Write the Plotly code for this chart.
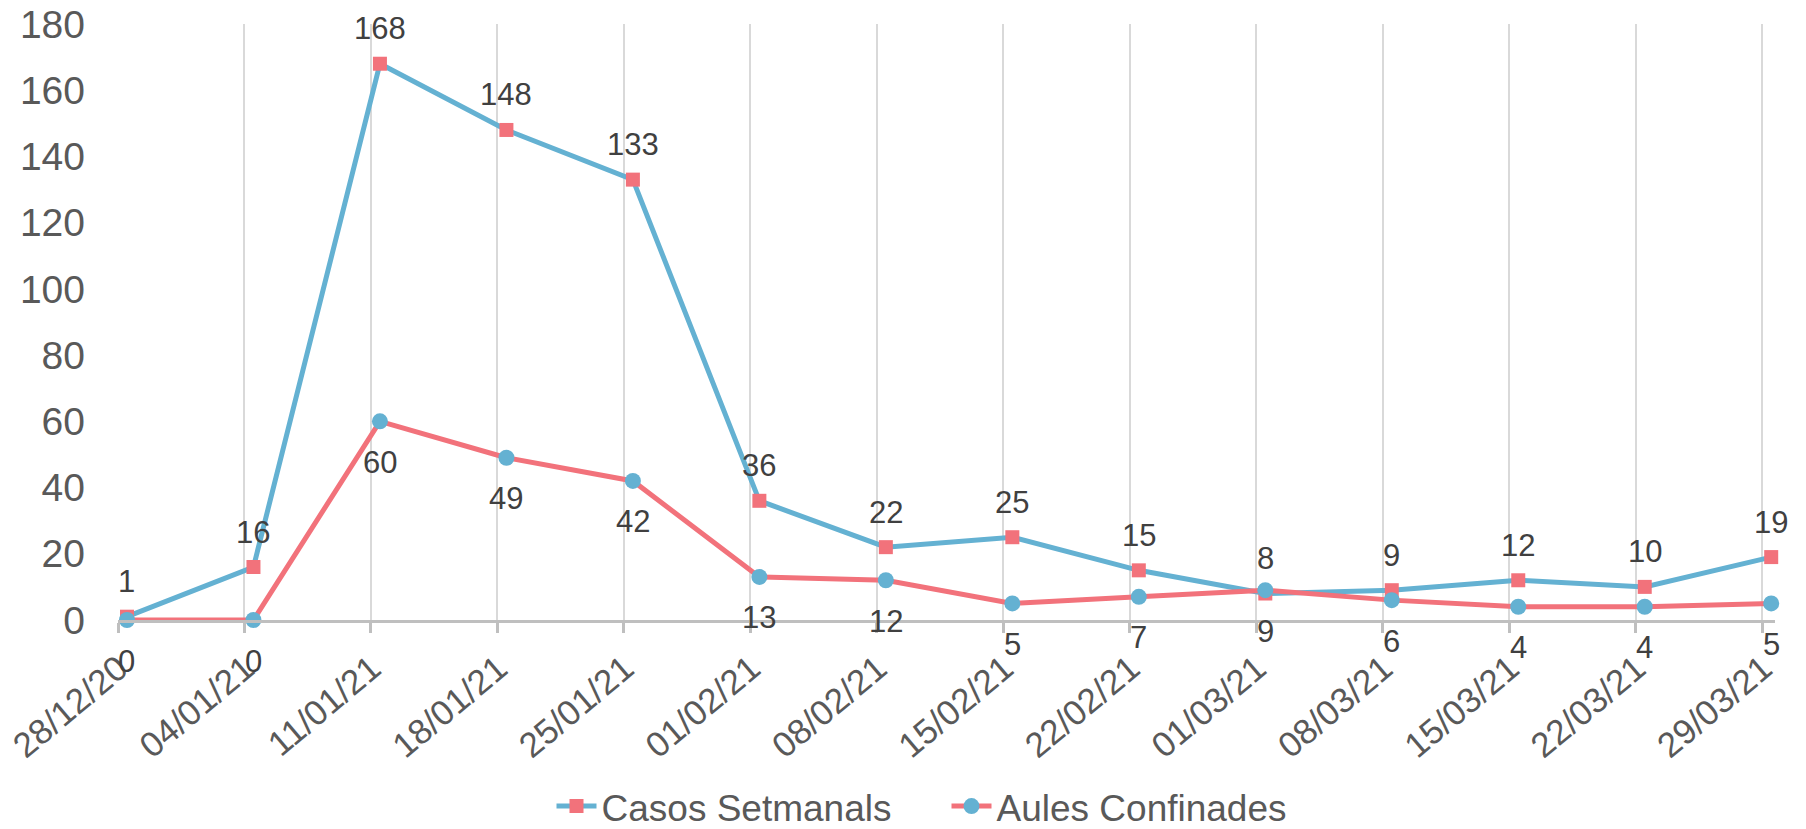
import numpy as np
import plotly.graph_objects as go

dates = ["28/12/20", "04/01/21", "11/01/21", "18/01/21", "25/01/21", "01/02/21", "08/02/21",
         "15/02/21", "22/02/21", "01/03/21", "08/03/21", "15/03/21", "22/03/21", "29/03/21"]
casos = [1, 16, 168, 148, 133, 36, 22, 25, 15, 8, 9, 12, 10, 19]
aules = [0, 0, 60, 49, 42, 13, 12, 5, 7, 9, 6, 4, 4, 5]

BLUE = "#64B1D2"
RED = "#F2727B"
FONT = "Liberation Sans, Arial, sans-serif"

x = np.arange(len(dates))
grid_shift = 0.071

fig = go.Figure()
fig.add_trace(go.Scatter(
    x=x, y=casos, name="Casos Setmanals", mode="lines+markers",
    line=dict(color=BLUE, width=5),
    marker=dict(symbol="square", size=14, color=RED),
    cliponaxis=False, hoverinfo="skip"))
fig.add_trace(go.Scatter(
    x=x, y=aules, name="Aules Confinades", mode="lines+markers",
    line=dict(color=RED, width=5),
    marker=dict(symbol="circle", size=16, color=BLUE),
    cliponaxis=False, hoverinfo="skip"))

for xi, v in zip(x, casos):
    fig.add_annotation(x=xi, y=v, text=str(v), showarrow=False, yshift=35,
                       font=dict(size=31, color="#404040", family=FONT))
for xi, v in zip(x, aules):
    fig.add_annotation(x=xi, y=v, text=str(v), showarrow=False, yshift=-41,
                       font=dict(size=31, color="#404040", family=FONT))

fig.update_layout(
    width=1806, height=829,
    margin=dict(l=118, r=31, t=24, b=209, autoexpand=False),
    paper_bgcolor="white", plot_bgcolor="white",
    font=dict(family=FONT, color="#595959", size=37),
    showlegend=True,
    legend=dict(orientation="h", x=0.5, xanchor="center", y=-0.313, yanchor="middle",
                font=dict(size=37, color="#595959"), itemwidth=40,
                entrywidth=340, bgcolor="rgba(0,0,0,0)"),
    xaxis=dict(
        range=[-grid_shift, 13.03], tickmode="array", tickvals=x, ticktext=dates,
        tickangle=-40, ticks="", showgrid=False, zeroline=False, automargin=False,
        showline=True, linecolor="#BFBFBF", linewidth=3,
        tickfont=dict(size=35, color="#595959"), ticklabelstandoff=11, ticklabelshift=-8,
        minor=dict(tickmode="array", tickvals=x - grid_shift, showgrid=True,
                   gridcolor="#D9D9D9", gridwidth=2, ticks="outside", ticklen=10,
                   tickcolor="#BFBFBF", tickwidth=3),
    ),
    yaxis=dict(
        range=[0, 180], tickmode="array", tickvals=list(range(0, 181, 20)),
        showgrid=False, zeroline=False, showline=False, ticks="", automargin=False,
        tickfont=dict(size=39, color="#595959"), ticklabelstandoff=32,
    ),
)

fig.write_html("out.html", config={"displayModeBar": False},
               post_script="document.body.style.margin='0';document.body.style.overflow='hidden';")
